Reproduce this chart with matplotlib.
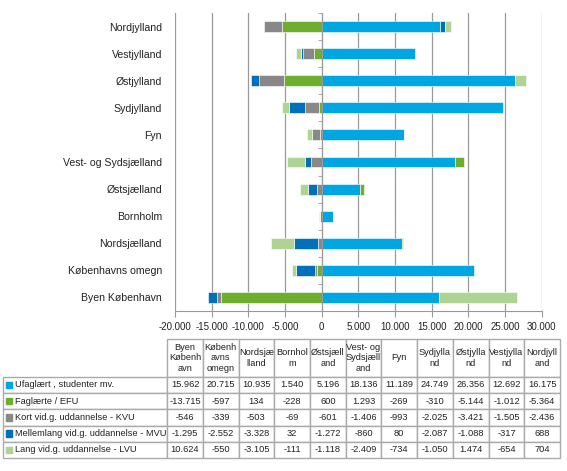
import matplotlib.pyplot as plt
from matplotlib.table import Table
from matplotlib.patches import Rectangle
from matplotlib.ticker import FuncFormatter, MultipleLocator

plt.rcParams['font.family'] = ['Liberation Sans', 'DejaVu Sans']

regions = ["Byen København", "Københavns omegn", "Nordsjælland", "Bornholm",
           "Østsjælland", "Vest- og Sydsjælland", "Fyn", "Sydjylland",
           "Østjylland", "Vestjylland", "Nordjylland"]
table_heads = ["Byen\nKøbenh\navn", "Københ\navns\nomegn", "Nordsjæ\nlland",
               "Bornhol\nm", "Østsjæll\nand", "Vest- og\nSydsjæll\nand", "Fyn",
               "Sydjylla\nnd", "Østjylla\nnd", "Vestjylla\nnd", "Nordjyll\nand"]
series_names = ["Ufaglært , studenter mv.", "Faglærte / EFU",
                "Kort vid.g. uddannelse - KVU", "Mellemlang vid.g. uddannelse - MVU",
                "Lang vid.g. uddannelse - LVU"]

ufaglaert = [15962, 20715, 10935, 1540, 5196, 18136, 11189, 24749, 26356, 12692, 16175]
faglaerte = [-13715, -597, 134, -228, 600, 1293, -269, -310, -5144, -1012, -5364]
kvu = [-546, -339, -503, -69, -601, -1406, -993, -2025, -3421, -1505, -2436]
mvu = [-1295, -2552, -3328, 32, -1272, -860, 80, -2087, -1088, -317, 688]
lvu = [10624, -550, -3105, -111, -1118, -2409, -734, -1050, 1474, -654, 704]

colors = ["#00A6E2", "#6EAE2F", "#888888", "#0070BB", "#AED393"]
series = [ufaglaert, faglaerte, kvu, mvu, lvu]

W, H = 567, 471
fig = plt.figure(figsize=(W / 100, H / 100), dpi=100)
ax = fig.add_axes([175 / W, (H - 311) / H, (541.7 - 175) / W, (311 - 13) / H])

# excel-style stacking: positives and negatives stack separately
pos = [0] * len(regions)
neg = [0] * len(regions)
ypos = list(range(len(regions)))
for vals, col in zip(series, colors):
    lefts = []
    for i, v in enumerate(vals):
        if v >= 0:
            lefts.append(pos[i]); pos[i] += v
        else:
            lefts.append(neg[i]); neg[i] += v
    ax.barh(ypos, vals, left=lefts, height=0.4, color=col, edgecolor='white', linewidth=0.4, zorder=3)

ax.set_xlim(-20000, 30000)
ax.set_ylim(-0.5, len(regions) - 0.5)
ax.xaxis.set_major_locator(MultipleLocator(5000))
ax.xaxis.set_major_formatter(FuncFormatter(lambda v, p: f"{int(v):,}".replace(",", ".")))
ax.grid(axis='x', color='#999999', linewidth=0.9, zorder=0)

for s in ['top', 'right']:
    ax.spines[s].set_visible(False)
ax.spines['bottom'].set_color('#999999')
ax.spines['left'].set_position(('data', 0))
ax.spines['left'].set_color('#999999')
ax.spines['left'].set_zorder(4)

ax.set_yticks(ypos)
ax.set_yticklabels(regions)
ax.set_yticks([y - 0.5 for y in ypos] + [len(regions) - 0.5], minor=True)
ax.tick_params(axis='y', which='major', length=0, pad=115, labelsize=7.6, colors='#222222')
ax.tick_params(axis='y', which='minor', length=3, color='#999999')
ax.tick_params(axis='x', length=4, color='#999999', labelsize=7, pad=4, colors='#222222')
ax.tick_params(axis='x', colors='#999999', labelcolor='#222222')

# data table under the chart
tax = fig.add_axes([3 / W, (H - 458) / H, (560 - 3) / W, (458 - 339) / H])
tax.axis('off')
tb = Table(tax, bbox=[0, 0, 1, 1])
lab_w, col_w, head_h, row_h = 164, 35.7, 38, 16.3
hc = tb.add_cell(0, 0, lab_w, head_h, text='')
hc.visible_edges = ''
for j, h in enumerate(table_heads):
    tb.add_cell(0, j + 1, col_w, head_h, text=h, loc='center')
for i, (name, vals) in enumerate(zip(series_names, series)):
    c = tb.add_cell(i + 1, 0, lab_w, row_h, text=name, loc='left')
    c.PAD = 0.075
    for j, v in enumerate(vals):
        tb.add_cell(i + 1, j + 1, col_w, row_h, text=f"{v:,}".replace(",", "."), loc='center')
tb.auto_set_font_size(False)
for (r, cidx), cell in tb.get_celld().items():
    cell.set_edgecolor('#aaaaaa')
    cell.set_linewidth(1.0)
    cell.get_text().set_fontsize(6.7)
    cell.get_text().set_color('#222222')
tax.add_table(tb)

tot_h = head_h + row_h * 5
for i, col in enumerate(colors):
    yc = (row_h * (5 - i - 0.5)) / tot_h
    tax.add_patch(Rectangle((2.5 / 557, yc - 3.2 / tot_h), 6 / 557, 6.4 / tot_h,
                            transform=tax.transAxes, color=col, clip_on=False))

fig.savefig("out.png", dpi=100)
